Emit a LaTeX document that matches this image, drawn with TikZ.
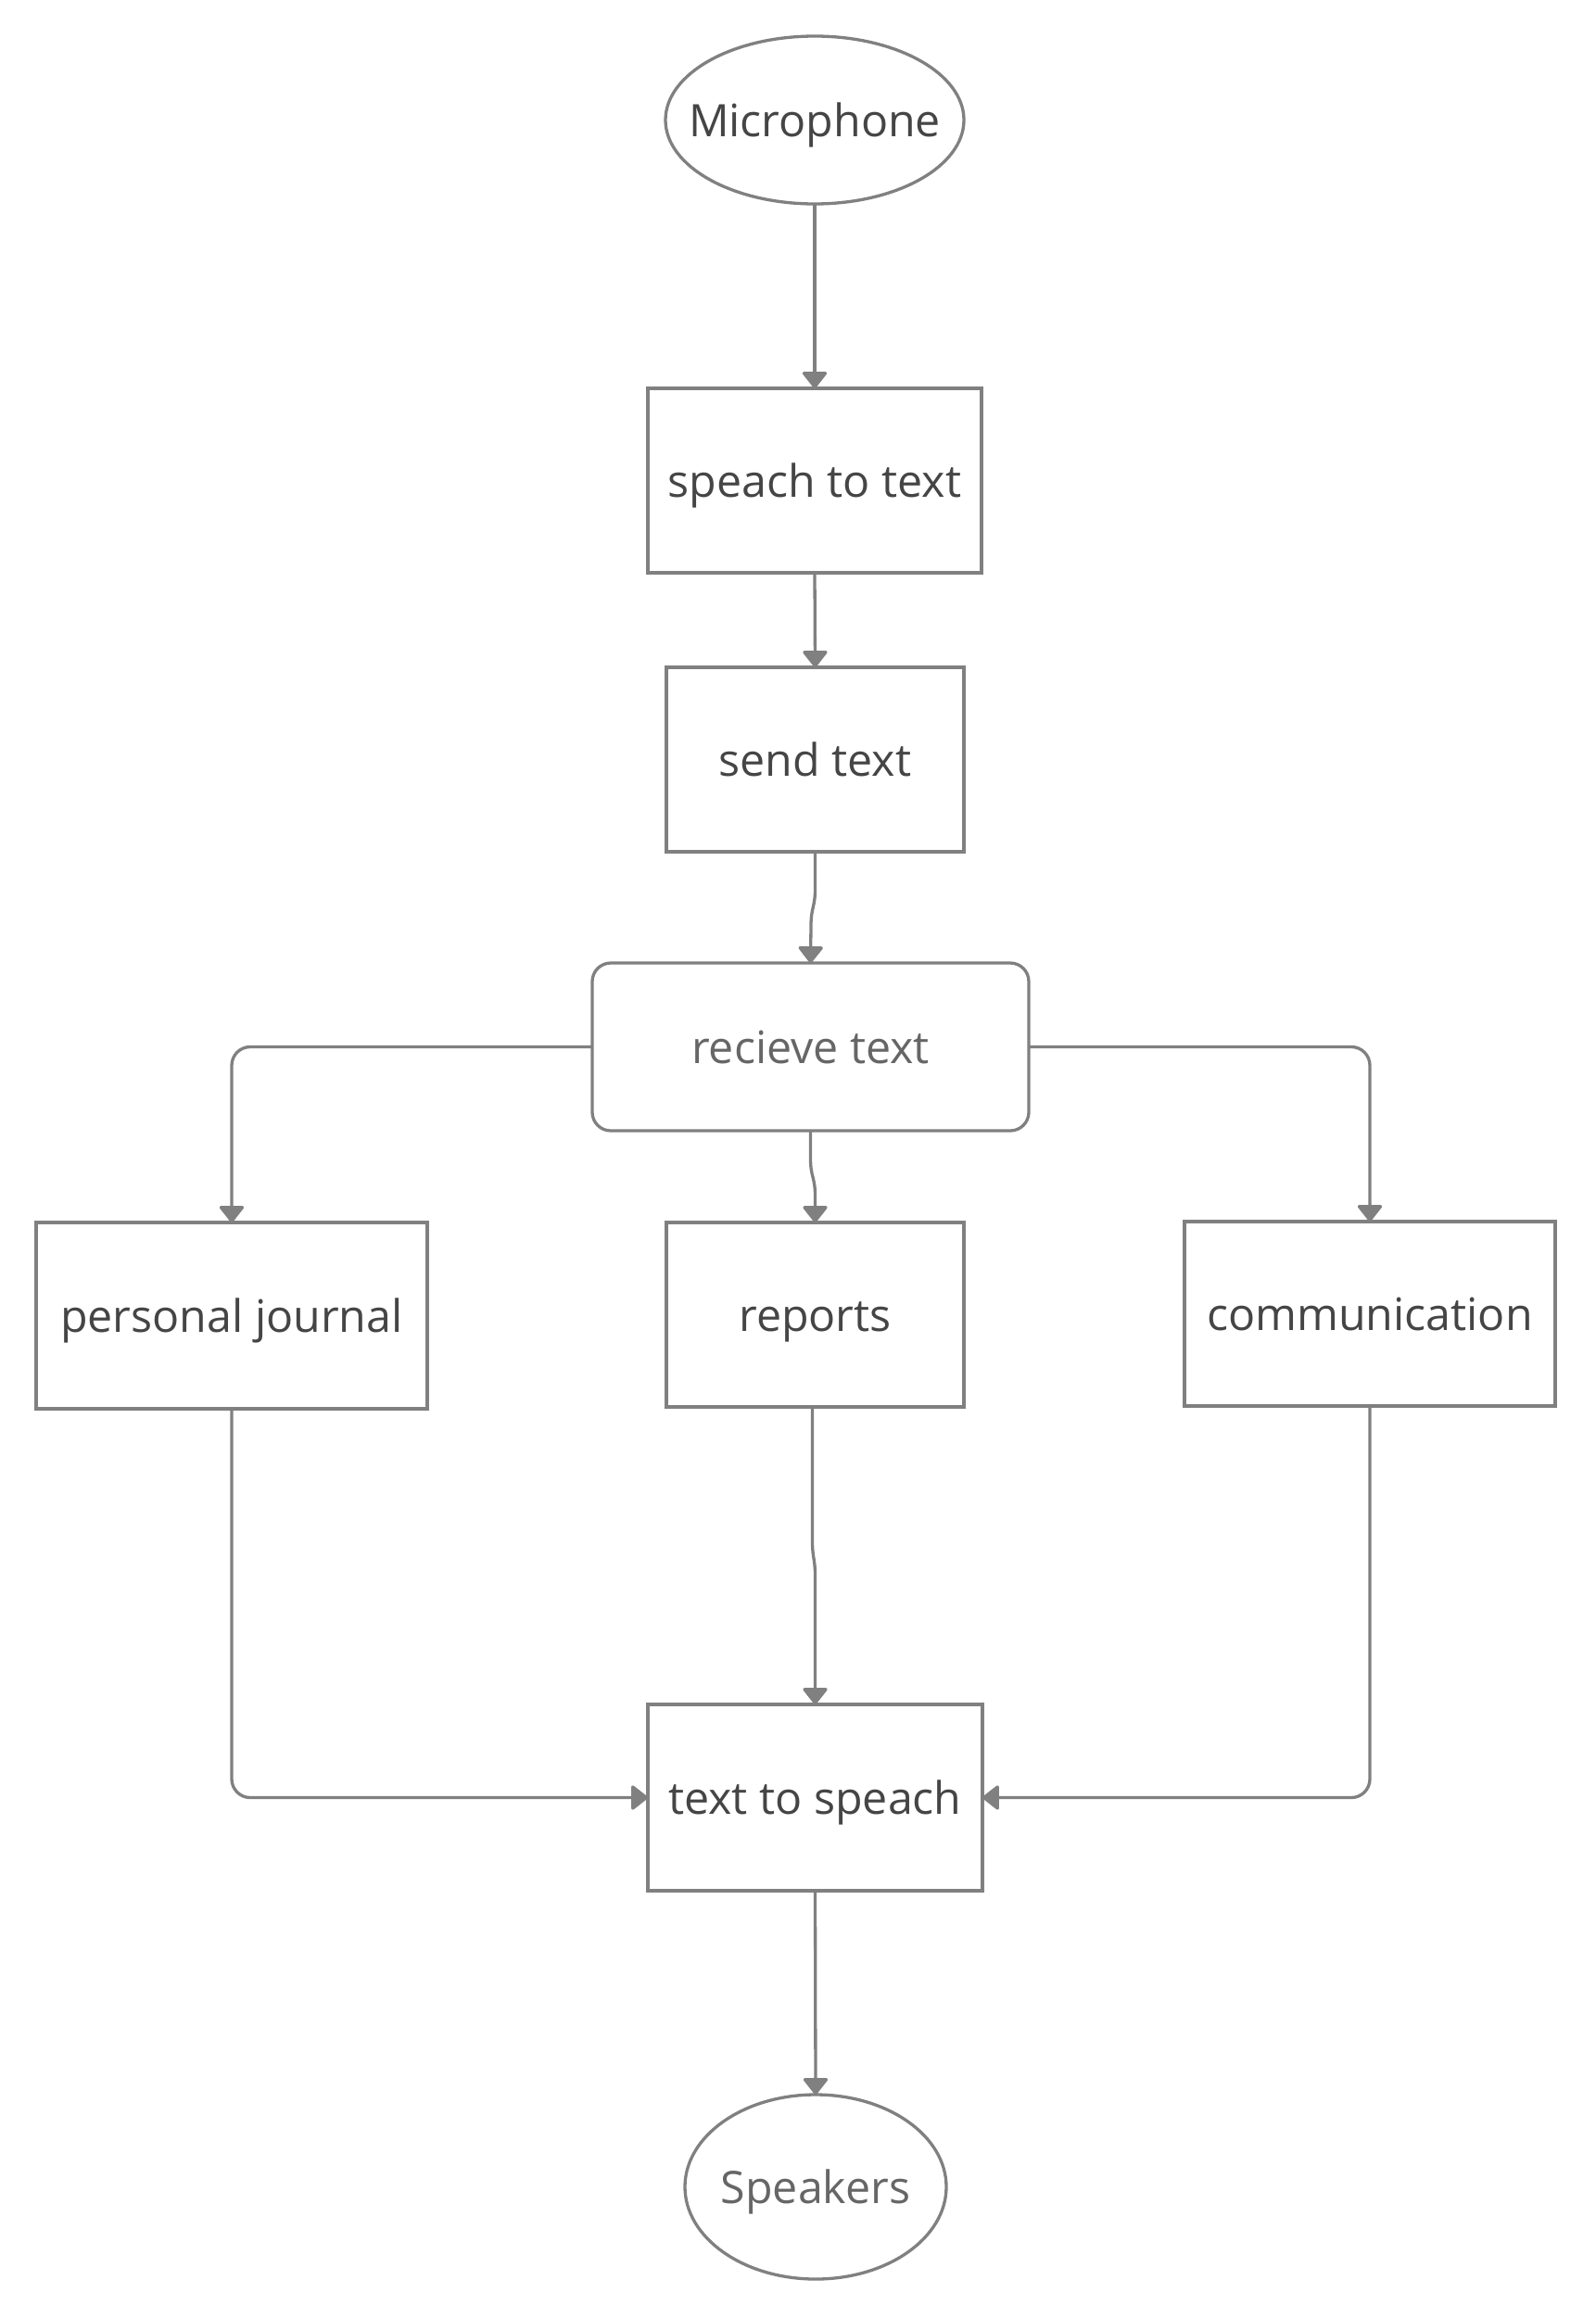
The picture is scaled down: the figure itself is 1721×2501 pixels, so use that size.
\documentclass[tikz,border=0pt]{standalone}
\usepackage{fontspec}
\setmainfont{Open Sans}
\usetikzlibrary{shapes.geometric,arrows.meta}
\definecolor{linegray}{HTML}{808080}
\definecolor{txtdark}{HTML}{454545}
\definecolor{txtlight}{HTML}{666666}
\begin{document}
\begin{tikzpicture}[x=1bp,y=-1bp,
  every node/.style={font=\fontsize{48.5}{58}\selectfont, text=txtdark, inner sep=0pt, outer sep=0pt, text height=35bp, text depth=0bp},
  box/.style={draw=linegray, line width=3.3bp, rectangle, fill=white},
  oval/.style={draw=linegray, line width=3.3bp, ellipse, fill=white},
  conn/.style={draw=linegray, line width=3.3bp, -{Triangle[width=29bp,length=19bp,round]}, color=linegray}]
\fill[white] (0,0) rectangle (1721,2501);
\useasboundingbox (0,0) rectangle (1721,2501);
\node[oval, minimum width=322bp, minimum height=181bp] (mic) at (879,129.5) {\makebox[0pt]{Microphone}};
\node[box, minimum width=360bp, minimum height=199bp] (stt) at (879,518.5) {speach to text};
\node[box, minimum width=321bp, minimum height=199bp] (send) at (879.5,819.5) {send text};
\node[box, rounded corners=20bp, minimum width=471bp, minimum height=181bp, text=txtlight] (recv) at (874.5,1129.5) {recieve text};
\node[box, minimum width=422bp, minimum height=201bp] (pj) at (250,1419.5) {\makebox[0pt]{personal journal}};
\node[box, minimum width=321bp, minimum height=199bp] (rep) at (879.5,1418.5) {reports};
\node[box, minimum width=400bp, minimum height=199bp] (comm) at (1478,1417.5) {\makebox[0pt]{communication}};
\node[box, minimum width=361bp, minimum height=201bp] (tts) at (879.5,1939.5) {\makebox[0pt]{text to speach}};
\node[oval, minimum width=282bp, minimum height=199bp, text=txtlight] (spk) at (880,2359.5) {\makebox[0pt]{Speakers}};

\draw[conn] (mic.south) -- (stt.north);
\draw[conn] (stt.south) -- (send.north);
\draw[conn] (send.south) -- ++(0,40) .. controls ++(0,20) and +(0,-20) .. ++(-4.5,40) -- (recv.north);
\draw[conn] (recv.south) -- ++(0,30) .. controls ++(0,20) and +(0,-20) .. ++(5,40) -- (rep.north);
\draw[conn, rounded corners=20bp] (recv.west) -| (pj.north);
\draw[conn, rounded corners=20bp] (recv.east) -| (comm.north);
\draw[conn] ([xshift=-3bp]rep.south) -- ++(0,145) .. controls ++(0,18) and +(0,-18) .. ++(3,37) -- (tts.north);
\draw[conn, rounded corners=20bp] (pj.south) |- (tts.west);
\draw[conn, rounded corners=20bp] (comm.south) |- (tts.east);
\draw[conn] (tts.south) -- (spk.north);
\end{tikzpicture}
\end{document}
